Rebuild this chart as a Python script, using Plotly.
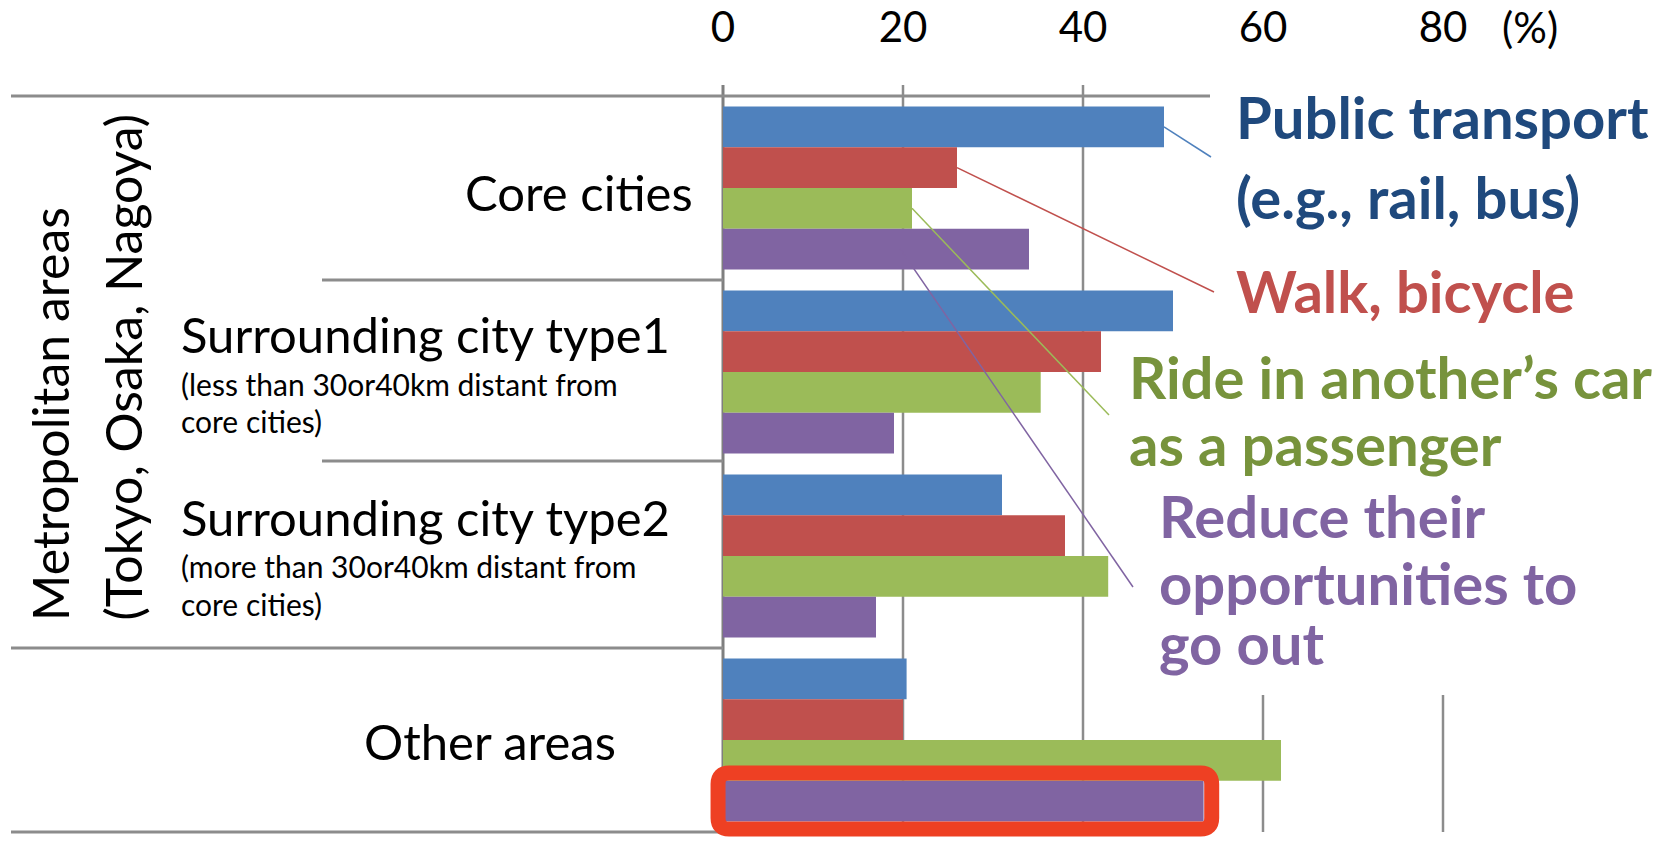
import plotly.graph_objects as go

# ---- data -------------------------------------------------------------
areas = ["Core cities", "Surrounding city type1", "Surrounding city type2", "Other areas"]
public_transport = [49, 50, 31, 20.4]
walk_bicycle = [26, 42, 38, 20]
ride_passenger = [21, 35.3, 42.8, 62]
reduce_outings = [34, 19, 17, 53.4]

series_names = ["Public transport (e.g., rail, bus)", "Walk, bicycle",
                "Ride in another’s car as a passenger",
                "Reduce their opportunities to go out"]
bar_colors = ["#4F81BD", "#C0504D", "#9BBB59", "#8064A2"]
text_colors = ["#1F497D", "#C0504D", "#77933C", "#8064A2"]

tick_vals = [0, 20, 40, 60, 80]
tick_text = ["0", "20", "40", "60", "80"]

# ---- layout geometry --------------------------------------------------
W, H = 1672, 843
L, T = 723, 96
X_MAX = 100
PW = 900            # 9 px per percentage point
PH = 736
R = W - L - PW
B = H - T - PH
BARGAP = 0.115
FONT = "Lato"
GRID = "#8c8c8c"
CAT_SIZE = 49
SUB_SIZE = 30
LABEL_SIZE = 58
TICK_SIZE = 42


def px(xp):
    """page x pixel -> paper x"""
    return (xp - L) / PW


def py(yp):
    """page y pixel -> paper y"""
    return 1 - (yp - T) / PH


def dx(v):
    """data x -> paper x"""
    return v / X_MAX


def dy(v):
    """category position (reversed axis, range 3.5..-0.5) -> paper y"""
    return 1 - (v + 0.5) / 4


def bar_center(cat, k):
    w = (1 - BARGAP) / 4
    return cat - (1 - BARGAP) / 2 + w * (k + 0.5)


series = [public_transport, walk_bicycle, ride_passenger, reduce_outings]

fig = go.Figure()
for name, vals, col in zip(series_names, series, bar_colors):
    fig.add_trace(go.Bar(
        y=list(range(len(areas))), x=vals, orientation="h", name=name,
        marker=dict(color=col, line=dict(width=0)),
        hoverinfo="x+name",
    ))

shapes = []

# vertical grid lines; the right-hand label panel hides the upper part of 60/80
panel_bottom = 695
for v in tick_vals:
    y_top = 85 if v <= 40 else panel_bottom
    shapes.append(dict(type="line", xref="paper", yref="paper",
                       x0=dx(v), x1=dx(v), y0=py(y_top), y1=py(832),
                       line=dict(color="#7f7f7f" if v == 0 else GRID,
                                 width=3 if v == 0 else 2.5),
                       layer="below"))

# category separators (two-level category axis)
seps = [(11, 1210, 96), (322, L, 280), (322, L, 461), (11, L, 648), (11, L, 832)]
for x0, x1, yy in seps:
    shapes.append(dict(type="line", xref="paper", yref="paper",
                       x0=px(x0), x1=px(x1), y0=py(yy), y1=py(yy),
                       line=dict(color=GRID, width=3), layer="below"))

# leader lines from bars to their labels
leader_start = [(public_transport[0], bar_center(0, 0)),
                (walk_bicycle[0], bar_center(0, 1)),
                (ride_passenger[0], bar_center(0, 2)),
                (19.7, bar_center(0, 3))]
leader_end = [(1211, 157), (1214, 292), (1109, 415), (1133, 587)]
for (sx, sy), (ex, ey), col in zip(leader_start, leader_end, bar_colors):
    shapes.append(dict(type="line", xref="paper", yref="paper",
                       x0=dx(sx), y0=dy(sy), x1=px(ex), y1=py(ey),
                       line=dict(color=col, width=1.5), layer="above"))

# highlight around the "Other areas" / reduce-outings bar
hx0 = dx(-0.55)
hx1 = dx(reduce_outings[3] + 0.9)
cy = bar_center(3, 3)
hy0 = dy(cy) + 28 / PH
hy1 = dy(cy) - 28 / PH
rx, ry = 11 / PW, 11 / PH
path = (f"M{hx0 + rx},{hy0} L{hx1 - rx},{hy0} Q{hx1},{hy0} {hx1},{hy0 - ry} "
        f"L{hx1},{hy1 + ry} Q{hx1},{hy1} {hx1 - rx},{hy1} "
        f"L{hx0 + rx},{hy1} Q{hx0},{hy1} {hx0},{hy1 + ry} "
        f"L{hx0},{hy0 - ry} Q{hx0},{hy0} {hx0 + rx},{hy0} Z")
shapes.append(dict(type="path", xref="paper", yref="paper", path=path,
                   line=dict(color="#EE4023", width=15), layer="above"))

ann = []


def text(xp, yp, s, size, color="black", xanchor="left", bold=False, **kw):
    ann.append(dict(xref="paper", yref="paper", x=px(xp), y=py(yp), text=s,
                    showarrow=False, xanchor=xanchor, yanchor="middle",
                    font=dict(family=FONT, size=size, color=color,
                              weight=700 if bold else 400), **kw))


# category labels
text(695, 192, areas[0], CAT_SIZE, xanchor="right")
text(179, 334, areas[1], CAT_SIZE)
text(179, 384, "(less than 30or40km distant from", SUB_SIZE)
text(179, 421, "core cities)", SUB_SIZE)
text(179, 517, areas[2], CAT_SIZE)
text(179, 566, "(more than 30or40km distant from", SUB_SIZE)
text(179, 604, "core cities)", SUB_SIZE)
text(490, 741, areas[3], CAT_SIZE, xanchor="center")

# outer group label, two rotated lines sharing a baseline end
for xc, line in [(50, "Metropolitan areas"), (122, "(Tokyo, Osaka, Nagoya)")]:
    ann.append(dict(xref="paper", yref="paper", x=px(xc), y=py(623),
                    text=line, showarrow=False, textangle=-90,
                    xanchor="center", yanchor="bottom",
                    font=dict(family=FONT, size=CAT_SIZE + 1, color="black")))

# unit label
text(1530, 27, "(%)", TICK_SIZE, xanchor="center")

# series labels
text(1234, 116, "Public transport", LABEL_SIZE, text_colors[0], bold=True)
text(1234, 197, "(e.g., rail, bus)", LABEL_SIZE, text_colors[0], bold=True)
text(1234, 290, "Walk, bicycle", LABEL_SIZE, text_colors[1], bold=True)
text(1127, 376, "Ride in another’s car", LABEL_SIZE, text_colors[2], bold=True)
text(1127, 443, "as a passenger", LABEL_SIZE, text_colors[2], bold=True)
text(1157, 515, "Reduce their", LABEL_SIZE, text_colors[3], bold=True)
text(1157, 582, "opportunities to", LABEL_SIZE, text_colors[3], bold=True)
text(1157, 642, "go out", LABEL_SIZE, text_colors[3], bold=True)

fig.update_layout(
    width=W, height=H,
    margin=dict(l=L, r=R, t=T, b=B, pad=0, autoexpand=False),
    paper_bgcolor="white", plot_bgcolor="white",
    barmode="group", bargap=BARGAP, bargroupgap=0,
    showlegend=False,
    shapes=shapes, annotations=ann,
    xaxis=dict(range=[0, X_MAX], side="top", tickvals=tick_vals, ticktext=tick_text,
               showgrid=False, zeroline=False, showline=False, ticks="",
               ticklabelstandoff=45, automargin=False,
               tickfont=dict(family=FONT, size=TICK_SIZE, color="black"),
               fixedrange=True),
    yaxis=dict(range=[3.5, -0.5], showticklabels=False, showgrid=False,
               zeroline=False, showline=False, ticks="", automargin=False,
               fixedrange=True),
)

fig.write_html("out.html")
